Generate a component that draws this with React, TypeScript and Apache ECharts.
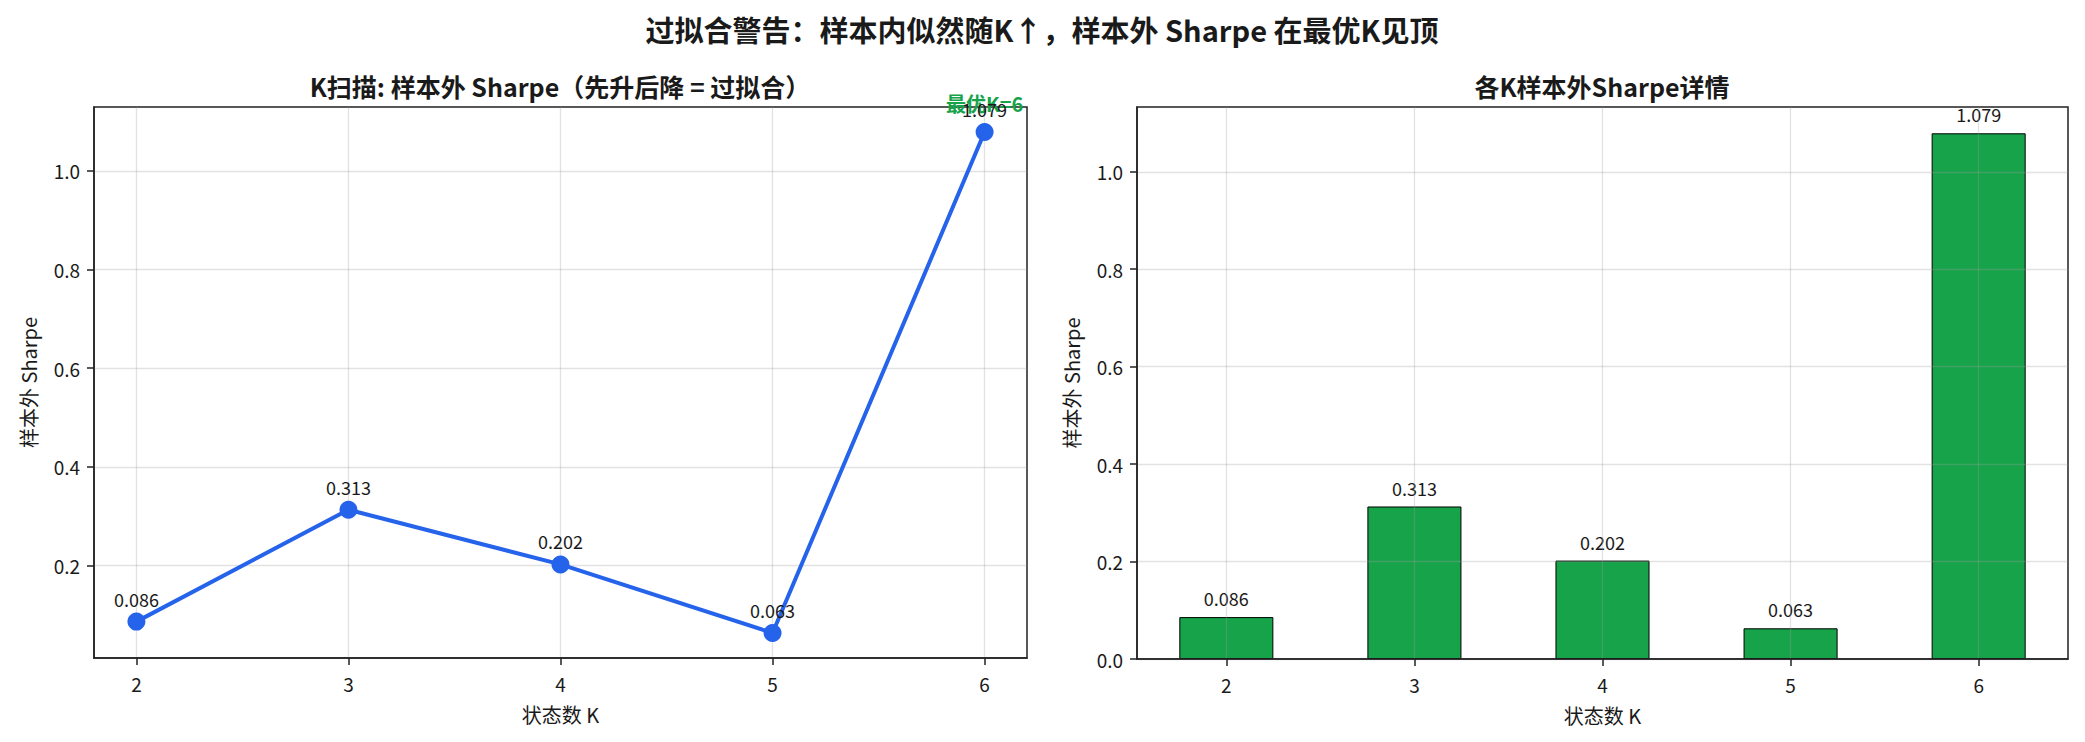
import React, { useEffect, useRef } from "react";
import * as echarts from "echarts";

const K_VALUES = [2, 3, 4, 5, 6];
const OOS_SHARPE = [0.086, 0.313, 0.202, 0.063, 1.079];
const LEFT_Y_TICKS = [0.2, 0.4, 0.6, 0.8, 1.0];
const RIGHT_Y_TICKS = [0.0, 0.2, 0.4, 0.6, 0.8, 1.0];
const SUPTITLE = "过拟合警告：样本内似然随K↑，样本外 Sharpe 在最优K见顶";
const LEFT_TITLE = "K扫描: 样本外 Sharpe（先升后降 = 过拟合）";
const RIGHT_TITLE = "各K样本外Sharpe详情";
const X_NAME = "状态数 K";
const Y_NAME = "样本外 Sharpe";

const FONT = '"Noto Sans CJK SC", "Noto Sans", sans-serif';
const LINE_COLOR = "#2563eb";
const BAR_COLOR = "#16a34a";
const BEST_COLOR = "#16a34a";
const TEXT = "#1a1a1a";
const SPINE = "#222222";
const GRIDLINE = "rgba(160,160,160,0.3)";

export default function App() {
  const ref = useRef<HTMLDivElement>(null);

  useEffect(() => {
    if (!ref.current) return;
    const chart = echarts.init(ref.current, undefined, { renderer: "svg" });

    const kMin = Math.min(...K_VALUES);
    const kMax = Math.max(...K_VALUES);
    const kSpan = kMax - kMin;
    const vMin = Math.min(...OOS_SHARPE);
    const vMax = Math.max(...OOS_SHARPE);
    const vSpan = vMax - vMin;
    const bestIdx = OOS_SHARPE.indexOf(vMax);
    const bestK = K_VALUES[bestIdx];

    const pairs = K_VALUES.map((k, i) => [k, OOS_SHARPE[i]]);

    const axisLabelStyle = { fontSize: 19, color: TEXT, fontFamily: FONT };
    const nameStyle = { fontSize: 20, color: TEXT, fontFamily: FONT };

    const xBase = (min: number, max: number) => ({
      type: "value" as const,
      min,
      max,
      z: 3,
      name: X_NAME,
      nameLocation: "middle" as const,
      nameGap: 46,
      nameTextStyle: nameStyle,
      axisLine: { show: true, onZero: false, lineStyle: { color: SPINE, width: 1.5 } },
      axisTick: {
        show: true,
        inside: false,
        length: 7,
        lineStyle: { color: SPINE, width: 1.5 },
        customValues: K_VALUES,
      },
      axisLabel: {
        ...axisLabelStyle,
        margin: 16,
        customValues: K_VALUES,
        formatter: (v: number) => String(v),
      },
      splitLine: { show: true, lineStyle: { color: GRIDLINE, width: 1.3 } },
    });

    const yBase = (min: number, max: number, ticks: number[]) => ({
      type: "value" as const,
      min,
      max,
      z: 3,
      name: Y_NAME,
      nameLocation: "middle" as const,
      nameGap: 56,
      nameTextStyle: nameStyle,
      axisLine: { show: true, onZero: false, lineStyle: { color: SPINE, width: 1.5 } },
      axisTick: {
        show: true,
        inside: false,
        length: 7,
        lineStyle: { color: SPINE, width: 1.5 },
        customValues: ticks,
      },
      axisLabel: {
        ...axisLabelStyle,
        margin: 14,
        customValues: ticks,
        formatter: (v: number) => v.toFixed(1),
      },
      splitLine: { show: true, lineStyle: { color: GRIDLINE, width: 1.3 } },
    });

    const option = {
      animation: false,
      backgroundColor: "#ffffff",
      textStyle: { fontFamily: FONT },
      grid: [
        {
          left: 94,
          top: 107,
          width: 933,
          height: 551,
          show: true,
          borderColor: SPINE,
          borderWidth: 1.5,
          backgroundColor: "transparent",
        },
        {
          left: 1137,
          top: 107,
          width: 931,
          height: 552,
          show: true,
          borderColor: SPINE,
          borderWidth: 1.5,
          backgroundColor: "transparent",
        },
      ],
      xAxis: [
        { ...xBase(kMin - 0.05 * kSpan, kMax + 0.05 * kSpan), gridIndex: 0 },
        {
          ...xBase(kMin - 0.25 - 0.05 * (kSpan + 0.5), kMax + 0.25 + 0.05 * (kSpan + 0.5)),
          gridIndex: 1,
        },
      ],
      yAxis: [
        {
          ...yBase(vMin - 0.05 * vSpan, vMax + 0.05 * vSpan, LEFT_Y_TICKS),
          gridIndex: 0,
        },
        { ...yBase(0, vMax * 1.05, RIGHT_Y_TICKS), gridIndex: 1 },
      ],
      graphic: [
        {
          type: "text",
          x: 1042,
          y: 29,
          style: {
            text: SUPTITLE,
            fontSize: 29,
            fontWeight: "bold",
            fontFamily: FONT,
            fill: TEXT,
            textAlign: "center",
            textVerticalAlign: "middle",
          },
        },
        {
          type: "text",
          x: 560,
          y: 86,
          style: {
            text: LEFT_TITLE,
            fontSize: 25,
            fontWeight: "bold",
            fontFamily: FONT,
            fill: TEXT,
            textAlign: "center",
            textVerticalAlign: "middle",
          },
        },
        {
          type: "text",
          x: 1602,
          y: 86,
          style: {
            text: RIGHT_TITLE,
            fontSize: 25,
            fontWeight: "bold",
            fontFamily: FONT,
            fill: TEXT,
            textAlign: "center",
            textVerticalAlign: "middle",
          },
        },
      ],
      series: [
        {
          type: "line",
          xAxisIndex: 0,
          yAxisIndex: 0,
          data: pairs,
          symbol: "circle",
          symbolSize: 18,
          lineStyle: { color: LINE_COLOR, width: 4 },
          itemStyle: { color: LINE_COLOR },
          label: {
            show: true,
            position: "top",
            distance: 5,
            fontSize: 18,
            color: TEXT,
            fontFamily: FONT,
            formatter: (p: any) => p.value[1].toFixed(3),
          },
          markPoint: {
            symbol: "circle",
            symbolSize: 1,
            itemStyle: { color: "rgba(0,0,0,0)" },
            data: [
              {
                coord: [bestK, vMax],
                label: {
                  show: true,
                  position: "inside",
                  offset: [0, -29],
                  formatter: `最优K=${bestK}`,
                  color: BEST_COLOR,
                  fontWeight: "bold",
                  fontSize: 20,
                  fontFamily: FONT,
                },
              },
            ],
          },
          z: 5,
        },
        {
          type: "bar",
          xAxisIndex: 1,
          yAxisIndex: 1,
          data: pairs,
          barWidth: "50%",
          z: 1,
          itemStyle: { color: BAR_COLOR, borderColor: "#000000", borderWidth: 1 },
          label: {
            show: true,
            position: "top",
            distance: 10,
            fontSize: 18,
            color: TEXT,
            fontFamily: FONT,
            formatter: (p: any) => p.value[1].toFixed(3),
          },
        },
      ],
    };

    chart.setOption(option as any);
    return () => chart.dispose();
  }, []);

  return (
    <div
      ref={ref}
      style={{ position: "fixed", left: 0, top: 0, width: 2085, height: 742, background: "#fff" }}
    />
  );
}
